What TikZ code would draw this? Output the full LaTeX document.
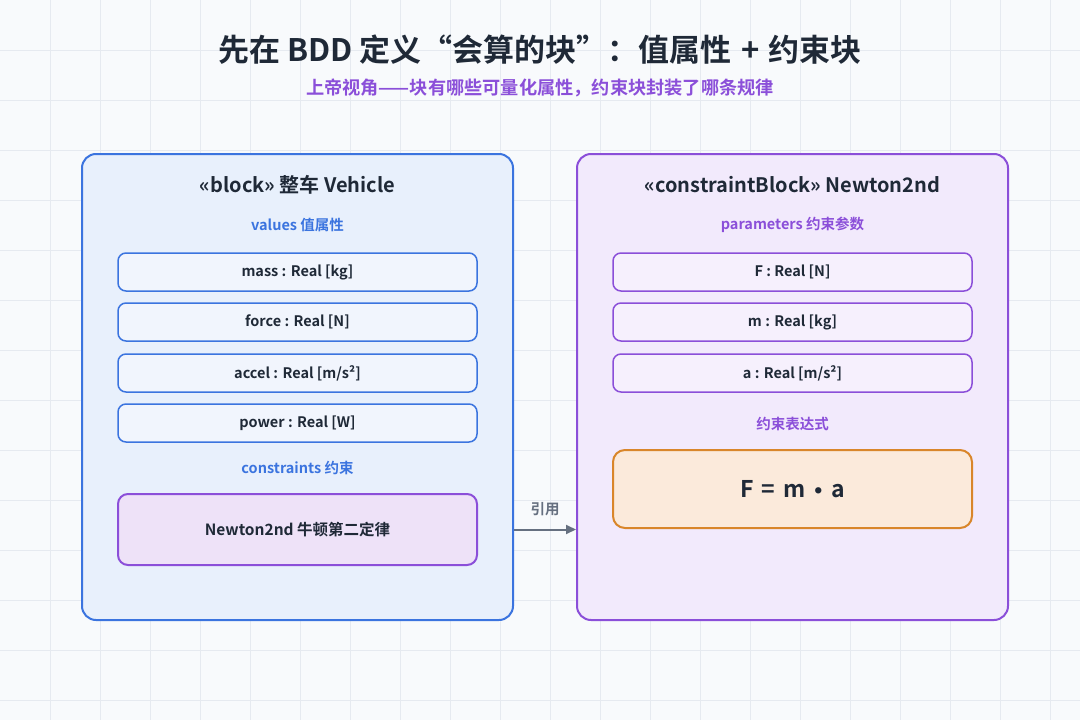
\documentclass[tikz,border=0pt]{standalone}
\usepackage{fontspec}
\setmainfont{Noto Sans CJK SC}[BoldFont={* Bold}]
\newfontfamily\symfont{DejaVu Sans}[BoldFont={DejaVu Sans Bold}]
\usetikzlibrary{arrows.meta}
\definecolor{bg}{HTML}{F8FAFC}
\definecolor{gridc}{HTML}{E6EAF0}
\definecolor{ink}{HTML}{1F2937}
\definecolor{blueb}{HTML}{3B74DF}
\definecolor{bluef}{HTML}{E8F0FC}
\definecolor{bluerow}{HTML}{F1F5FD}
\definecolor{purb}{HTML}{8B4FD9}
\definecolor{purf}{HTML}{F2EAFC}
\definecolor{purrow}{HTML}{F6F0FD}
\definecolor{conf}{HTML}{EEE2F8}
\definecolor{orb}{HTML}{D9862A}
\definecolor{orf}{HTML}{FBEADB}
\definecolor{grayc}{HTML}{667080}
\tikzset{
  outer/.style={draw, line width=2pt, rounded corners=14pt, minimum width=431pt, minimum height=466pt, inner sep=0pt},
  row/.style={draw, line width=1.5pt, rounded corners=8pt, minimum width=359pt, minimum height=38pt, inner sep=0pt, font=\fontsize{14.5}{17}\selectfont\bfseries, text=ink},
  head/.style={font=\fontsize{20}{24}\selectfont\bfseries, text=ink},
  sect/.style={font=\fontsize{14.5}{17}\selectfont\bfseries},
}
\begin{document}
\begin{tikzpicture}[x=1pt,y=-1pt]
\useasboundingbox (0,0) rectangle (1080,720);
\fill[bg] (0,0) rectangle (1080,720);
\foreach \i in {50,100,...,1050} \draw[gridc, line width=0.8pt] (\i,0) -- (\i,720);
\foreach \j in {50,100,...,700} \draw[gridc, line width=0.8pt] (0,\j) -- (1080,\j);

\node[font=\fontsize{31}{36}\selectfont\bfseries, text=ink] (title) at (540,50) {先在 BDD 定义“会算的块”：值属性\hspace{0.3em}+\hspace{0.3em}约束块};
\node[font=\fontsize{18.2}{21}\selectfont\bfseries, text=purb] (sub) at (540,88) {上帝视角——块有哪些可量化属性，约束块封装了哪条规律};

% left block
\node[outer, draw=blueb, fill=bluef] (veh) at (297.5,387) {};
\node[head] (vehT) at (297.5,185) {«block» 整车 Vehicle};
\node[sect, text=blueb] (vals) at (297.5,225) {values 值属性};
\node[row, draw=blueb, fill=bluerow] (mass) at (297.5,272) {mass : Real [kg]};
\node[row, draw=blueb, fill=bluerow] (force) at (297.5,322) {force : Real [N]};
\node[row, draw=blueb, fill=bluerow] (accel) at (297.5,373) {accel : Real [m/s²]};
\node[row, draw=blueb, fill=bluerow] (power) at (297.5,423) {power : Real [W]};
\node[sect, text=blueb] (cons) at (297.5,468) {constraints 约束};
\node[row, draw=purb, fill=conf, line width=2pt, minimum height=71pt, rounded corners=10pt, font=\fontsize{15.5}{18}\selectfont\bfseries] (nref) at (297.5,529.5) {Newton2nd 牛顿第二定律};

% right block
\node[outer, draw=purb, fill=purf] (nb) at (792.5,387) {};
\node[head] (nbT) at (792.5,185) {«constraintBlock» Newton2nd};
\node[sect, text=purb] (pars) at (792.5,225) {parameters 约束参数};
\node[row, draw=purb, fill=purrow] (pF) at (792.5,272) {F : Real [N]};
\node[row, draw=purb, fill=purrow] (pm) at (792.5,322) {m : Real [kg]};
\node[row, draw=purb, fill=purrow] (pa) at (792.5,373) {a : Real [m/s²]};
\node[sect, text=purb] (expr) at (792.5,424) {约束表达式};
\node[row, draw=orb, fill=orf, line width=2pt, minimum height=78pt, rounded corners=12pt, font=\fontsize{23}{27}\selectfont\bfseries] (form) at (792.5,489) {F\hspace{0.35em}=\hspace{0.35em}m\hspace{0.3em}{\symfont\fontsize{18}{20}\selectfont •}\hspace{0.3em}a};

% connector
\draw[grayc, line width=2pt, -{Triangle[length=10pt,width=9pt]}] (nref.east -| veh.east) -- (nref.east -| nb.west) node[midway, above=9pt, font=\fontsize{14.5}{17}\selectfont\bfseries, text=grayc] (lbl) {引用};
\end{tikzpicture}
\end{document}
